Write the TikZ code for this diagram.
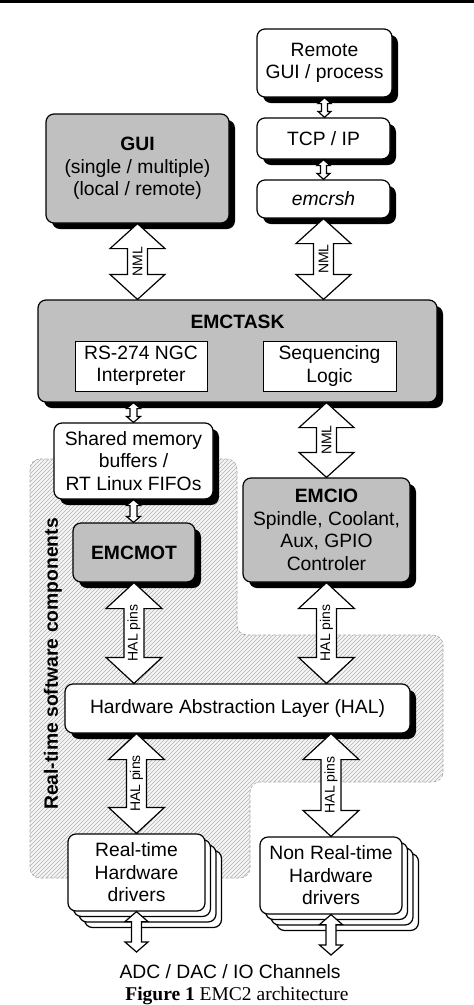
\documentclass[tikz,border=0pt]{standalone}
\usepackage{fontspec}
\setmainfont{Liberation Sans}
\newfontfamily\captfont{Liberation Serif}
\usetikzlibrary{calc,shadows}

\definecolor{boxgray}{RGB}{192,192,192}
\newcommand{\boxfont}{\fontsize{19.3}{22.5}\selectfont}
\newcommand{\pinfont}{\fontsize{14}{14}\selectfont}
\newcommand{\regionpath}{(30,-459) -- (237,-459) -- (237,-635) -- (443,-635) -- (443,-782)
        -- (250,-782) -- (250,-878) -- (30,-878) -- cycle}

% hollow double arrow: name, from, to, half shaft, half head, head length, label
\newcommand{\fatarrow}[7]{%
  \draw[arrowbody] let \p1=(#2), \p2=(#3) in
    (\x1,\y1) -- (\x1+#5pt,\y1-#6pt) -- (\x1+#4pt,\y1-#6pt) -- (\x1+#4pt,\y2+#6pt)
    -- (\x1+#5pt,\y2+#6pt) -- (\x1,\y2) -- (\x1-#5pt,\y2+#6pt) -- (\x1-#4pt,\y2+#6pt)
    -- (\x1-#4pt,\y1-#6pt) -- (\x1-#5pt,\y1-#6pt) -- cycle;
  \if\relax\detokenize{#7}\relax\else
    \path let \p1=(#2), \p2=(#3) in node[arrowlabel] (#1) at (\x1,{0.5*(\y1+\y2)}) {#7};
  \fi
}

\tikzset{
  box/.style={draw, line width=1.2pt, rounded corners=8pt, fill=white, align=center, font=\boxfont, inner sep=0pt},
  shadowed/.style={drop shadow={shadow xshift=6pt, shadow yshift=-6pt, opacity=1, fill=black}},
  whitebox/.style={box, shadowed},
  graybox/.style={box, shadowed, fill=boxgray},
  inbox/.style={draw, line width=1pt, fill=white, align=center, font=\boxfont, inner sep=0pt},
  arrowbody/.style={line width=1.2pt, fill=white, draw, line join=miter},
  arrowlabel/.style={rotate=90, font=\pinfont, inner sep=0pt},
  region/.style={draw=gray!70, line width=0.6pt, dash pattern=on 3pt off 2pt, rounded corners=10pt},
  hatch/.style={gray!60, line width=0.45pt},
}

\begin{document}
\begin{tikzpicture}[x=1pt, y=1pt]
    \useasboundingbox (0,0) rectangle (474,-1005);
    \fill[black] (0,0) rectangle (474,-3);

    % Real-time region (hatched)
    \begin{scope}
        \clip[rounded corners=10pt] \regionpath;
        \fill[gray!8] (0,-440) rectangle (474,-900);
        \foreach \i in {-900,-896,...,460}
            \draw[hatch] (\i,-900) -- (\i+460,-440);
    \end{scope}
    \draw[region] \regionpath;
    \node[font=\boxfont\bfseries, rotate=90] (rtlabel) at (53,-664) {Real-time software components};

    % Remote side
    \node[whitebox, minimum width=135pt, minimum height=68pt] (remote) at (324.5,-63) {Remote\\GUI / process};
    \node[whitebox, minimum width=133pt, minimum height=41pt] (tcp) at (323.5,-138.5) {TCP / IP};
    \node[whitebox, minimum width=133pt, minimum height=38pt] (rsh) at (323.5,-199) {\itshape emcrsh};

    % GUI
    \node[graybox, minimum width=183pt, minimum height=109pt] (gui) at (137.5,-168.5) {\bfseries GUI\\(single / multiple)\\(local / remote)};

    % EMCTASK
    \node[graybox, minimum width=399pt, minimum height=102pt] (task) at (237.5,-351) {};
    \node[font=\boxfont\bfseries] (tasktitle) at (237.5,-322) {EMCTASK};
    \node[inbox, minimum width=132pt, minimum height=50pt] (ngc) at (141,-366) {RS-274 NGC\\Interpreter};
    \node[inbox, minimum width=133pt, minimum height=50pt] (seq) at (329.5,-366) {Sequencing\\Logic};

    % Shared memory, EMCMOT, EMCIO
    \node[whitebox, minimum width=159pt, minimum height=76pt] (shm) at (133.5,-461) {Shared memory\\buffers /\\RT Linux FIFOs};
    \node[graybox, minimum width=122pt, minimum height=59pt] (emcmot) at (134,-552.5) {\bfseries EMCMOT};
    \node[graybox, minimum width=167pt, minimum height=104pt] (emcio) at (326.5,-530) {\bfseries EMCIO\\Spindle, Coolant,\\Aux, GPIO\\Controler};

    % HAL
    \node[whitebox, minimum width=345pt, minimum height=49pt] (hal) at (237.5,-708.5) {Hardware Abstraction Layer (HAL)};

    % Drivers (stacked)
    \foreach \k in {3,2,1} {
        \node[box, minimum width=137pt, minimum height=77pt] (rtcopy\k) at ({136.5+5.5*\k},{-872.5-5.5*\k}) {};
        \node[box, minimum width=142pt, minimum height=77pt] (nrtcopy\k) at ({331+5.5*\k},{-875.5-5.5*\k}) {};
    }
    \node[box, minimum width=137pt, minimum height=77pt] (rtdrv) at (136.5,-872.5) {Real-time\\Hardware\\drivers};
    \node[box, minimum width=142pt, minimum height=77pt] (nrtdrv) at (331,-875.5) {Non Real-time\\Hardware\\drivers};

    % Channels and caption
    \coordinate (adcl) at (136.5,-952);
    \coordinate (adcr) at (331,-955);
    \node[font=\boxfont] (adc) at (230,-972) {ADC / DAC / IO Channels};
    \node[font=\fontsize{19.5}{20}\selectfont\captfont] (caption) at (237,-996) {\textbf{Figure 1} EMC2 architecture};

    % Links
    \fatarrow{a1}{remote.south}{tcp.north}{3}{6.5}{6}{}
    \fatarrow{a2}{tcp.south}{rsh.north}{3}{6.5}{6}{}
    \fatarrow{nml1}{gui.south}{gui.south |- task.north}{10}{27.5}{25}{NML}
    \fatarrow{nml2}{rsh.south}{rsh.south |- task.north}{10}{27.5}{25}{NML}
    \fatarrow{nml3}{emcio.north |- task.south}{emcio.north}{10}{27.5}{25}{NML}
    \fatarrow{a3}{shm.north |- task.south}{shm.north}{3.5}{7}{6}{}
    \fatarrow{a4}{shm.south}{shm.south |- emcmot.north}{3.5}{7}{6}{}
    \fatarrow{pin1}{emcmot.south}{emcmot.south |- hal.north}{10}{28}{26}{HAL pins}
    \fatarrow{pin2}{emcio.south}{emcio.south |- hal.north}{10}{28}{26}{HAL pins}
    \fatarrow{pin3}{rtdrv.north |- hal.south}{rtdrv.north}{10}{28}{26}{HAL pins}
    \fatarrow{pin4}{nrtdrv.north |- hal.south}{nrtdrv.north}{10}{28}{26}{HAL pins}
    \fatarrow{io1}{rtdrv.south}{adcl}{5}{11.5}{10}{}
    \fatarrow{io2}{nrtdrv.south}{adcr}{5}{11.5}{10}{}
\end{tikzpicture}
\end{document}
